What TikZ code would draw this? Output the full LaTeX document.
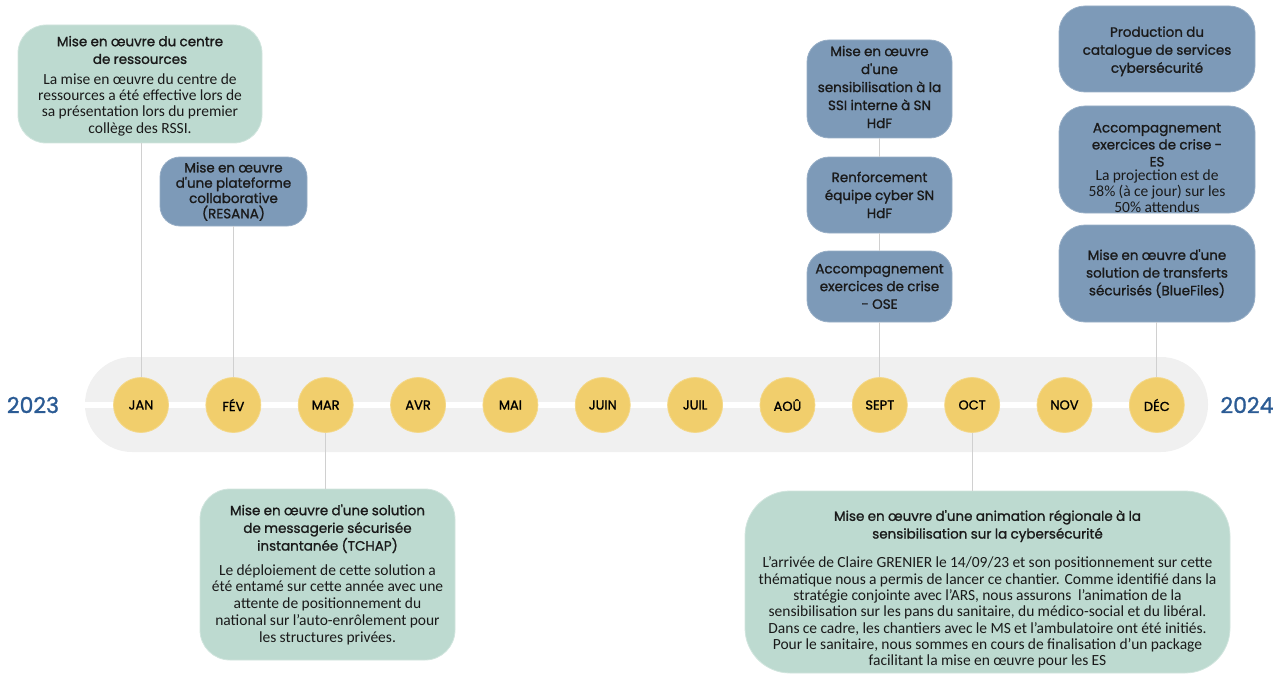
\documentclass[tikz,border=0pt]{standalone}
\usepackage{fontspec}
\setmainfont{Carlito}
\newfontfamily\ttlfont{Poppins}[FakeBold=1.2]
\usetikzlibrary{positioning}
\definecolor{boxgreen}{HTML}{BDDAD0}
\definecolor{boxblue}{HTML}{7D9AB8}
\definecolor{monthgold}{HTML}{F1CE6C}
\definecolor{bandgrey}{HTML}{F0F0F0}
\definecolor{yearblue}{HTML}{2B5B94}
\definecolor{linkgrey}{HTML}{D0D0D0}
\definecolor{ink}{HTML}{1A1A1A}
\newcommand{\boxtitle}{\ttlfont\fontsize{13.5}{17.7}\selectfont}
\newcommand{\boxbody}{\rmfamily\fontsize{15.5}{16.3}\selectfont}
\tikzset{
  card/.style={rectangle, rounded corners=24pt, align=center, inner sep=2pt, text=ink},
  greenbox/.style={card, fill=boxgreen, draw=boxgreen!70!white, line width=0.8pt},
  bluebox/.style={card, fill=boxblue, draw=boxblue!80!white, line width=0.8pt},
  month/.style={circle, fill=monthgold, draw=monthgold!80!white, line width=0.8pt, minimum size=55pt, inner sep=0pt, font=\ttlfont\fontsize{13}{15}\selectfont, text=black},
  year/.style={font=\ttlfont\fontsize{22}{24}\selectfont, text=yearblue},
  link/.style={draw=linkgrey, line width=1pt}
}

\begin{document}
\begin{tikzpicture}[x=1pt, y=-1pt]
  \useasboundingbox (0,0) rectangle (1282,674);
  \node[rectangle, rounded corners=47pt, fill=bandgrey, minimum width=1123pt, minimum height=95pt, inner sep=0pt] (band) at (646.5,404.5) {};
  \draw[white, line width=6pt] (band.west) -- (1185,404.5);
  \foreach \i/\lbl in {1/JAN, 2/FÉV, 3/MAR, 4/AVR, 5/MAI, 6/JUIN, 7/JUIL, 8/AOÛ, 9/SEPT, 10/OCT, 11/NOV, 12/DÉC}
    \node[month] (m\i) at ({141+92.35*(\i-1)},405) {\lbl};
  \node[year] (y1) at (33,405) {2023};
  \node[year] (y2) at (1247,405) {2024};

  \node[greenbox, minimum width=244pt, minimum height=118pt, rounded corners=28pt, text width=236pt] (jan) at (140,84)
    {\boxtitle\rule{0pt}{14pt}Mise en œuvre du centre\\de ressources\par\vspace{4pt}
     \boxbody La mise en œuvre du centre de\\ressources a été effective lors de\\sa présentation lors du premier\\collège des RSSI.\par};
  \node[bluebox, minimum width=147pt, minimum height=69pt, rounded corners=20pt, text width=140pt] (fev) at (233.5,191.5)
    {\boxtitle\fontsize{13.5}{15.3}\selectfont Mise en œuvre\\d'une plateforme\\collaborative\\(RESANA)\par};
  \node[greenbox, minimum width=255pt, minimum height=171pt, rounded corners=30pt, text width=248pt] (mar) at (327.5,574.5)
    {\boxtitle Mise en œuvre d'une solution\\de messagerie sécurisée\\instantanée (TCHAP)\par\vspace{8pt}
     \boxbody\fontsize{15.5}{16.7}\selectfont Le déploiement de cette solution a\\été entamé sur cette année avec une\\attente de positionnement du\\national sur l'auto-enrôlement pour\\les structures privées.\par};

  \node[bluebox, minimum width=145pt, minimum height=98pt, rounded corners=22pt, text width=138pt] (sepa) at (879.5,89)
    {\boxtitle\fontsize{13.5}{18}\selectfont Mise en œuvre\\d'une\\sensibilisation à la\\SSI interne à SN\\HdF\par\vspace{4pt}};
  \node[bluebox, minimum width=145pt, minimum height=76pt, rounded corners=22pt, text width=138pt] (sepb) at (879.5,195)
    {\boxtitle\fontsize{13.5}{18}\selectfont Renforcement\\équipe cyber SN\\HdF\par};
  \node[bluebox, minimum width=145pt, minimum height=71pt, rounded corners=22pt, text width=138pt] (sepc) at (879.5,286.5)
    {\boxtitle Accompagnement\\exercices de crise\\- OSE\par};

  \node[greenbox, minimum width=485pt, minimum height=182pt, rounded corners=45pt, text width=478pt] (oct) at (987.5,582)
    {\boxtitle\rule{0pt}{25pt}Mise en œuvre d'une animation régionale à la\\sensibilisation sur la cybersécurité\par\vspace{13pt}
     \boxbody L'arrivée de Claire GRENIER le 14/09/23 et son positionnement sur cette\\thématique nous a permis de lancer ce chantier. Comme identifié dans la\\stratégie conjointe avec l'ARS, nous assurons\ \ l'animation de la\\sensibilisation sur les pans du sanitaire, du médico-social et du libéral.\\Dans ce cadre, les chantiers avec le MS et l'ambulatoire ont été initiés.\\Pour le sanitaire, nous sommes en cours de finalisation d'un package\\facilitant la mise en œuvre pour les ES\par};

  \node[bluebox, minimum width=196pt, minimum height=86pt, rounded corners=26pt, text width=189pt] (deca) at (1157,49)
    {\boxtitle\fontsize{13.5}{18}\selectfont\rule{0pt}{15pt}Production du\\catalogue de services\\cybersécurité\par};
  \node[bluebox, minimum width=196pt, minimum height=107pt, rounded corners=26pt, text width=189pt] (decb) at (1157,159.5)
    {\boxtitle\fontsize{13.5}{17}\selectfont\rule{0pt}{20pt}Accompagnement\\exercices de crise -\\ES\par\vspace{-2pt}
     \boxbody\fontsize{15.5}{16}\selectfont La projection est de\\58\% (à ce jour) sur les\\50\% attendus\par\vspace{-6pt}};
  \node[bluebox, minimum width=196pt, minimum height=97pt, rounded corners=26pt, text width=189pt] (decc) at (1157,273.5)
    {\boxtitle Mise en œuvre d'une\\solution de transferts\\sécurisés (BlueFiles)\par};

  \draw[link] (m1.north) -- (m1.north |- jan.south);
  \draw[link] (m2.north) -- (m2.north |- fev.south);
  \draw[link] (m3.south) -- (m3.south |- mar.north);
  \draw[link] (sepa.south) -- (sepb.north);
  \draw[link] (sepb.south) -- (sepc.north);
  \draw[link] (m9.north) -- (m9.north |- sepc.south);
  \draw[link] (m10.south) -- (m10.south |- oct.north);
  \draw[link] (m12.north) -- (m12.north |- decc.south);
\end{tikzpicture}
\end{document}
